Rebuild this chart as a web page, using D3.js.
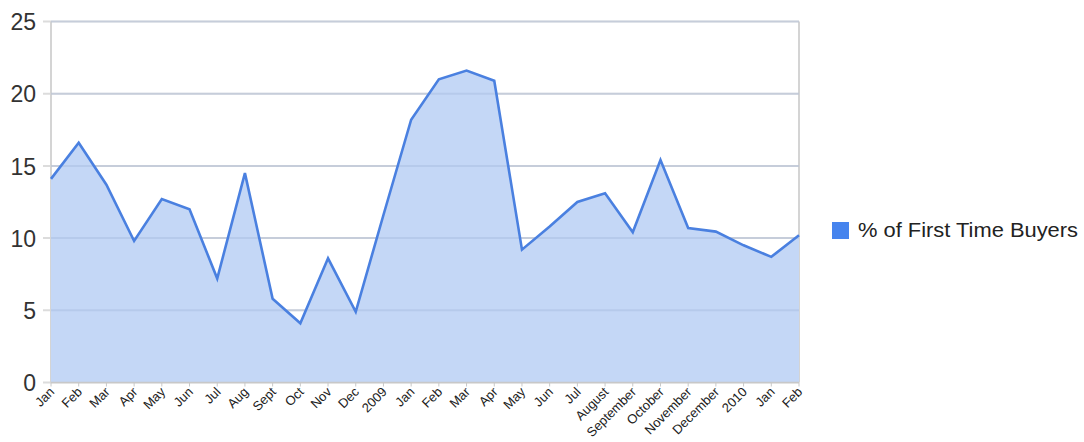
<!DOCTYPE html>
<html><head><meta charset="utf-8">
<script src="https://cdnjs.cloudflare.com/ajax/libs/d3/7.8.5/d3.min.js"></script>
<style>body{margin:0;background:#fff}svg{display:block;font-family:Arial,"Liberation Sans",sans-serif}</style>
</head><body><svg id="c" width="1084" height="442"></svg>
<script>
const categories = ["Jan","Feb","Mar","Apr","May","Jun","Jul","Aug","Sept","Oct","Nov","Dec","2009","Jan","Feb","Mar","Apr","May","Jun","Jul","August","September","October","November","December","2010","Jan","Feb"];
const values = [14.1,16.6,13.7,9.8,12.7,12.0,7.2,14.5,5.8,4.1,8.6,4.9,11.6,18.2,21.0,21.6,20.9,9.2,10.8,12.5,13.1,10.4,15.4,10.7,10.45,9.5,8.7,10.2];
const yTicks = [0,5,10,15,20,25];
const seriesName = "% of First Time Buyers";

(function () {
const svg = d3.select("#c");
const pL = 51, pR = 799, pT = 21.5, pB = 382.5;
const x = d3.scalePoint().domain(d3.range(categories.length)).range([pL, pR]);
const y = d3.scaleLinear().domain([0, 25]).range([pB, pT]);

svg.append("g").selectAll("line").data(yTicks).join("line")
  .attr("x1", pL - 8).attr("x2", pR)
  .attr("y1", d => y(d)).attr("y2", d => y(d))
  .attr("stroke", "#dcdcdc").attr("stroke-width", 2);
svg.append("line").attr("x1", pL).attr("x2", pL).attr("y1", pT).attr("y2", pB).attr("stroke", "#d4d4d4").attr("stroke-width", 2);
svg.append("line").attr("x1", pR).attr("x2", pR).attr("y1", pT).attr("y2", pB).attr("stroke", "#d4d4d4").attr("stroke-width", 2);

const area = d3.area().x((d, i) => x(i)).y0(pB).y1(d => y(d));
svg.append("path").datum(values).attr("d", area).attr("fill", "#c4d7f6");
svg.append("g").selectAll("line").data(yTicks.slice(1)).join("line")
  .attr("x1", pL).attr("x2", pR)
  .attr("y1", d => y(d)).attr("y2", d => y(d))
  .attr("stroke", "#9fb3d6").attr("stroke-opacity", 0.35).attr("stroke-width", 2);
const line = d3.line().x((d, i) => x(i)).y(d => y(d));
svg.append("path").datum(values).attr("d", line).attr("fill", "none")
  .attr("stroke", "#4a80e0").attr("stroke-width", 2.6).attr("stroke-linejoin", "miter");

svg.append("line").attr("x1", pL).attr("x2", pR).attr("y1", pB).attr("y2", pB).attr("stroke", "#c8c8c8").attr("stroke-width", 1.5);
const xa = svg.append("g");
xa.selectAll("line").data(d3.range(categories.length)).join("line")
  .attr("x1", i => x(i)).attr("x2", i => x(i)).attr("y1", pB).attr("y2", pB + 4)
  .attr("stroke", "#c8c8c8");
xa.selectAll("text").data(categories).join("text")
  .attr("transform", (d, i) => `translate(${x(i) + 1},${pB + 7}) rotate(-45)`)
  .attr("text-anchor", "end").attr("dy", "0.35em")
  .attr("font-size", 13).attr("fill", "#222").text(d => d);

svg.append("g").selectAll("text").data(yTicks).join("text")
  .attr("x", 36).attr("y", d => y(d)).attr("dy", "0.38em")
  .attr("text-anchor", "end").attr("font-size", 23).attr("fill", "#333")
  .text(d => d);

svg.append("rect").attr("x", 832).attr("y", 222).attr("width", 17).attr("height", 17).attr("fill", "#4684ee");
svg.append("text").attr("x", 858).attr("y", 237).attr("font-size", 19.5)
  .attr("textLength", 220).attr("lengthAdjust", "spacingAndGlyphs")
  .attr("fill", "#222").text(seriesName);
})();
</script></body></html>
